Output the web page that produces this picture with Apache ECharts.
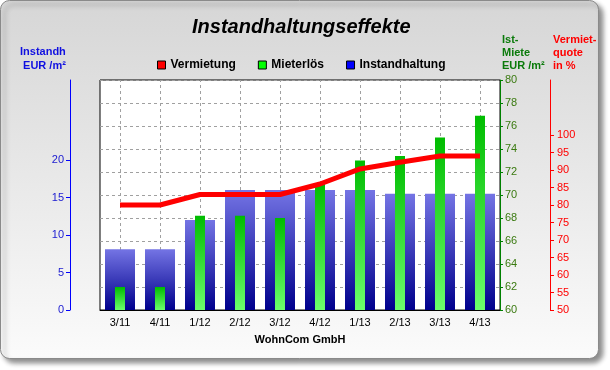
<!DOCTYPE html>
<html><head><meta charset="utf-8">
<script src="https://cdn.jsdelivr.net/npm/echarts@6/dist/echarts.min.js"></script>
<style>html,body{margin:0;padding:0;background:#fff}#c{width:610px;height:370px}</style>
</head><body><div id="c"></div>
<script>
const categories = ['3/11','4/11','1/12','2/12','3/12','4/12','1/13','2/13','3/13','4/13'];
const instandhaltung = [8.1, 8.1, 12, 16, 16, 16, 16, 15.5, 15.5, 15.5];
const mieterloes = [62, 62, 68.2, 68.2, 68, 71, 73, 73.4, 75, 76.9];
const vermietung = [80, 80, 83, 83, 83, 86, 90.3, 92.2, 94, 94];
const blueTicks = [0, 5, 10, 15, 20];
const redTicks = [50, 55, 60, 65, 70, 75, 80, 85, 90, 95, 100];

const chart = echarts.init(document.getElementById('c'), null, {renderer:'canvas'});
const font = 'Liberation Sans, Arial, sans-serif';
chart.setOption({
  animation: false,
  backgroundColor: '#ffffff',
  textStyle: {fontFamily: font},
  graphic: [{
    type: 'rect', z: -10, silent: true,
    shape: {x: 0.5, y: 0.5, width: 598, height: 358, r: 9},
    style: {
      fill: new echarts.graphic.LinearGradient(0,0,0,1,[{offset:0,color:'#d6d6d6'},{offset:1,color:'#fbfbfb'}]),
      stroke: '#8a8a8a', lineWidth: 1,
      shadowBlur: 5, shadowOffsetX: 4, shadowOffsetY: 4, shadowColor: 'rgba(0,0,0,0.45)'
    }
  },{
    type: 'text', left: 20, top: 45, z: 10,
    style: {text: 'Instandh\n EUR /m²', fill: '#1010e0', font: 'bold 11px ' + font, lineHeight: 14}
  },{
    type: 'text', left: 502, top: 33, z: 10,
    style: {text: 'Ist-\nMiete\nEUR /m²', fill: '#0a7a0a', font: 'bold 11px ' + font, lineHeight: 13}
  },{
    type: 'text', left: 553, top: 33, z: 10,
    style: {text: 'Vermiet-\nquote\nin %', fill: '#ff0000', font: 'bold 11px ' + font, lineHeight: 13}
  }],
  title: {
    text: 'Instandhaltungseffekte', left: 187, top: 12,
    textStyle: {fontSize: 20, fontWeight: 'bold', fontStyle: 'italic', color: '#000', fontFamily: font}
  },
  legend: {
    top: 54, left: 152, itemGap: 22, itemWidth: 8, itemHeight: 8, icon: 'rect',
    textStyle: {fontSize: 12, fontWeight: 'bold', color: '#000'},
    data: [
      {name: 'Vermietung', itemStyle: {color: '#ff0000', borderColor: '#000', borderWidth: 1}},
      {name: 'Mieterlös', itemStyle: {color: '#00ff00', borderColor: '#000', borderWidth: 1}},
      {name: 'Instandhaltung', itemStyle: {color: '#0000ff', borderColor: '#000', borderWidth: 1}}
    ]
  },
  grid: {left: 100, right: 110, top: 80, bottom: 60, show: true, backgroundColor: '#fff', borderColor: '#000', borderWidth: 1},
  xAxis: [{
    type: 'category', data: categories,
    name: 'WohnCom GmbH', nameLocation: 'middle', nameGap: 24,
    nameTextStyle: {fontWeight: 'bold', fontSize: 11, color: '#000'},
    axisLine: {lineStyle: {color: '#000'}},
    axisTick: {alignWithLabel: true, length: 4, lineStyle: {color: '#000'}},
    axisLabel: {fontSize: 11, color: '#000', margin: 7},
    splitLine: {show: false}
  },{
    type: 'category', data: categories, show: false
  }],
  yAxis: [{
    type: 'value', position: 'left', offset: 30, min: 0, max: 30.667, interval: 5,
    axisLine: {show: true, lineStyle: {color: '#0000ff'}},
    axisTick: {show: true, length: 4, customValues: blueTicks, lineStyle: {color: '#0000ff'}},
    axisLabel: {customValues: blueTicks, color: '#1a1ad0', fontSize: 11, margin: 6},
    splitLine: {show: false}
  },{
    type: 'value', position: 'right', offset: 0, min: 60, max: 80, interval: 2,
    axisLine: {show: true, lineStyle: {color: '#008000'}},
    axisTick: {show: true, length: 3, lineStyle: {color: '#008000'}},
    axisLabel: {color: '#3a7a10', fontSize: 11, margin: 5},
    splitLine: {show: true, lineStyle: {color: '#a0a0a0', type: [3, 3]}}
  },{
    type: 'value', position: 'right', offset: 50, min: 50, max: 115.714, interval: 5,
    axisLine: {show: true, lineStyle: {color: '#ff0000'}},
    axisTick: {show: true, length: 4, customValues: redTicks, lineStyle: {color: '#ff0000'}},
    axisLabel: {customValues: redTicks, color: '#ff0000', fontSize: 11, margin: 7},
    splitLine: {show: false}
  }],
  series: [{
    name: 'Gitter', type: 'line', data: [], z: 1, silent: true,
    markLine: {
      z: 1, silent: true, symbol: 'none', label: {show: false},
      lineStyle: {color: '#a0a0a0', type: [3, 3], width: 1},
      data: categories.map(c => ({xAxis: c}))
    }
  },{
    name: 'Instandhaltung', type: 'bar', data: instandhaltung, xAxisIndex: 0, yAxisIndex: 0,
    barWidth: 30, z: 3,
    itemStyle: {color: new echarts.graphic.LinearGradient(0,0,0,1,[{offset:0,color:'#7474e4'},{offset:1,color:'#00008c'}])}
  },{
    name: 'Mieterlös', type: 'bar', data: mieterloes, xAxisIndex: 1, yAxisIndex: 1,
    barWidth: 10, z: 4,
    itemStyle: {color: new echarts.graphic.LinearGradient(0,0,0,1,[{offset:0,color:'#00bc00'},{offset:1,color:'#6cff6c'}])}
  },{
    name: 'Vermietung', type: 'line', data: vermietung, xAxisIndex: 0, yAxisIndex: 2,
    symbol: 'none', z: 5,
    lineStyle: {color: '#ff0000', width: 5},
    itemStyle: {color: '#ff0000'}
  }]
});
</script></body></html>
